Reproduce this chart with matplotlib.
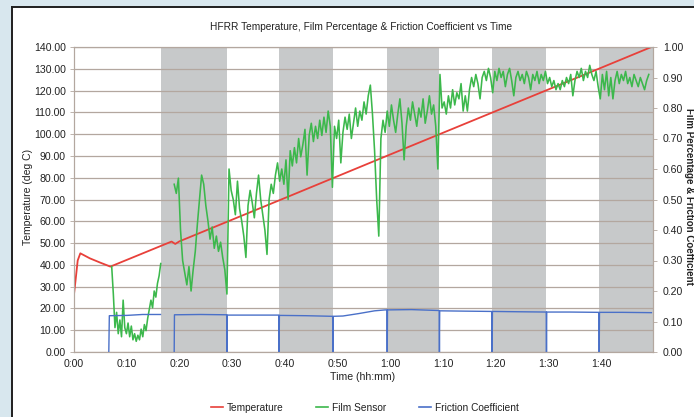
import matplotlib

matplotlib.use("Agg")
import matplotlib.pyplot as plt
import numpy as np
from matplotlib.lines import Line2D
from matplotlib.patches import Rectangle

plt.rcParams["font.family"] = ["Liberation Sans", "DejaVu Sans"]

# ---- data (time in minutes) ----
TIME_TICKS = [0, 10, 20, 30, 40, 50, 60, 70, 80, 90, 100]
TIME_LABELS = ["0:00", "0:10", "0:20", "0:30", "0:40", "0:50",
               "1:00", "1:10", "1:20", "1:30", "1:40"]
T_END = 109.8

TEMP_TICKS = [0, 10, 20, 30, 40, 50, 60, 70, 80, 90, 100, 110, 120, 130, 140]
FRAC_TICKS = [0.0, 0.1, 0.2, 0.3, 0.4, 0.5, 0.6, 0.7, 0.8, 0.9, 1.0]

# load/unload periods shaded grey
BAND_START = [16.5, 38.9, 59.4, 79.3, 99.6]
BAND_END = [29.0, 49.1, 69.3, 89.6, T_END]

temp_time = [0.0, 0.3, 0.7, 1.2, 3.0, 5.0, 6.9, 18.5, 19.2, 20.0, 40.0, 60.0, 80.0, 100.0, 109.5]
temp_degc = [26.5, 33.0, 42.0, 45.3, 43.0, 41.0, 39.2, 50.7, 49.6, 50.8, 70.7, 90.7, 110.6, 130.5, 140.0]

# film sensor: sampled in two runs, gap while the rig is reloaded
film_a_start, film_a_step = 7.15, 0.31
film_a = [0.28, 0.19, 0.08, 0.13, 0.06, 0.105, 0.05, 0.17, 0.08, 0.06, 0.095,
          0.05, 0.085, 0.04, 0.06, 0.035, 0.055, 0.04, 0.075, 0.05, 0.09, 0.07,
          0.11, 0.14, 0.17, 0.145, 0.20, 0.18, 0.225, 0.25, 0.29]

film_b_start, film_b_step = 19.0, 0.4
film_b = [
    # 0:19 - 0:29
    0.55, 0.52, 0.57, 0.40, 0.30, 0.26, 0.22, 0.28, 0.20, 0.27, 0.33, 0.42, 0.50,
    0.58, 0.55, 0.48, 0.43, 0.37, 0.41, 0.34, 0.38, 0.33, 0.36, 0.31, 0.27,
    # 0:29 - 0:39
    0.19, 0.60, 0.53, 0.50, 0.45, 0.56, 0.47, 0.43, 0.38, 0.31, 0.48, 0.53, 0.49,
    0.44, 0.52, 0.58, 0.50, 0.45, 0.40, 0.32, 0.50, 0.55, 0.52, 0.58, 0.62,
    # 0:39 - 0:49
    0.56, 0.60, 0.55, 0.63, 0.50, 0.66, 0.61, 0.67, 0.62, 0.70, 0.64, 0.68, 0.73,
    0.58, 0.71, 0.75, 0.69, 0.74, 0.70, 0.76, 0.71, 0.77, 0.72, 0.79, 0.74,
    # 0:49 - 0:59
    0.54, 0.74, 0.70, 0.76, 0.62, 0.72, 0.77, 0.73, 0.78, 0.70, 0.75, 0.80, 0.74,
    0.79, 0.76, 0.82, 0.78, 0.84, 0.875, 0.78, 0.66, 0.50, 0.38, 0.70, 0.76,
    # 0:59 - 1:09
    0.72, 0.79, 0.74, 0.81, 0.76, 0.72, 0.78, 0.83, 0.75, 0.63, 0.74, 0.80, 0.76,
    0.82, 0.78, 0.74, 0.80, 0.77, 0.83, 0.75, 0.79, 0.84, 0.78, 0.81, 0.74,
    # 1:09 - 1:19
    0.60, 0.91, 0.80, 0.82, 0.78, 0.84, 0.80, 0.86, 0.81, 0.85, 0.83, 0.88, 0.79,
    0.84, 0.79, 0.86, 0.90, 0.87, 0.91, 0.88, 0.83, 0.90, 0.92, 0.89, 0.93,
    # 1:19 - 1:29
    0.90, 0.85, 0.92, 0.89, 0.93, 0.90, 0.92, 0.87, 0.91, 0.93, 0.89, 0.84, 0.90,
    0.92, 0.89, 0.91, 0.88, 0.92, 0.90, 0.86, 0.91, 0.89, 0.92, 0.88, 0.91,
    # 1:29 - 1:39
    0.89, 0.92, 0.88, 0.90, 0.87, 0.89, 0.86, 0.88, 0.86, 0.89, 0.87, 0.90, 0.88,
    0.91, 0.84, 0.89, 0.92, 0.90, 0.93, 0.89, 0.92, 0.90, 0.94, 0.91, 0.89,
    # 1:39 - 1:49
    0.92, 0.87, 0.83, 0.91, 0.86, 0.92, 0.84, 0.90, 0.83, 0.89, 0.92, 0.88, 0.91,
    0.89, 0.92, 0.88, 0.90, 0.87, 0.91, 0.89, 0.87, 0.90, 0.88, 0.86, 0.89, 0.91,
]

# friction coefficient, drops to zero at each stop
fric_time = [6.6, 6.7, 10.0, 13.0, 16.4, np.nan,
             19.0, 19.05, 24.0, 28.95, 29.0, 29.05, 34.0, 38.85, 38.9, 38.95,
             44.0, 49.05, 49.1, 49.15, 51.0, 54.0, 57.0, 59.0, 59.35, 59.4, 59.45,
             64.0, 69.25, 69.3, 69.35, 74.0, 79.25, 79.3, 79.35, 84.0,
             89.55, 89.6, 89.65, 94.0, 99.55, 99.6, 99.65, 104.0, 109.5]
fric_coef = [0.0, 0.119, 0.120, 0.123, 0.123, np.nan,
             0.0, 0.122, 0.123, 0.122, 0.0, 0.121, 0.121, 0.121, 0.0, 0.120,
             0.119, 0.117, 0.0, 0.117, 0.118, 0.126, 0.135, 0.138, 0.138, 0.0, 0.138,
             0.139, 0.136, 0.0, 0.135, 0.134, 0.133, 0.0, 0.133, 0.132,
             0.131, 0.0, 0.131, 0.131, 0.130, 0.0, 0.130, 0.130, 0.129]

RED = "#e8403a"
GREEN = "#3cb84c"
BLUE = "#4a70c8"
GRID = "#b3a79f"
BAND = "#c7c9ca"
TEXT = "#222222"

film_a_t = film_a_start + film_a_step * np.arange(len(film_a))
film_b_t = film_b_start + film_b_step * np.arange(len(film_b))

fig = plt.figure(figsize=(6.94, 4.17), dpi=100, facecolor="white")

# page frame around the embedded chart
fig.patches.append(Rectangle((0, 0), 11 / 694, 1, transform=fig.transFigure,
                             facecolor="#d8e7ee", edgecolor="none", zorder=0))
fig.patches.append(Rectangle((0, 1 - 7 / 417), 1, 7 / 417, transform=fig.transFigure,
                             facecolor="#d8e7ee", edgecolor="none", zorder=0))
fig.add_artist(Line2D([12 / 694, 12 / 694], [0, 1 - 7 / 417], transform=fig.transFigure,
                      color="#1e1e1e", lw=1.4))
fig.add_artist(Line2D([12 / 694, 1], [1 - 7 / 417, 1 - 7 / 417], transform=fig.transFigure,
                      color="#1e1e1e", lw=1.4))

ax = fig.add_axes([74 / 694, 1 - 352 / 417, (653 - 74) / 694, (352 - 47) / 417])
ax2 = ax.twinx()

for s, e in zip(BAND_START, BAND_END):
    ax.axvspan(s, e, color=BAND, lw=0, zorder=0)
for v in TEMP_TICKS:
    ax.axhline(v, color=GRID, lw=0.9, zorder=1)

ax.plot(temp_time, temp_degc, color=RED, lw=1.3, zorder=3)
ax2.plot(film_a_t, film_a, color=GREEN, lw=1.15)
ax2.plot(film_b_t, film_b, color=GREEN, lw=1.15)
ax2.plot(fric_time, fric_coef, color=BLUE, lw=1.0)

ax.set_xlim(0, T_END)
ax.set_ylim(0, 140)
ax2.set_ylim(0, 1.0)

ax.set_xticks(TIME_TICKS)
ax.set_xticklabels(TIME_LABELS)
ax.set_yticks(TEMP_TICKS)
ax.set_yticklabels([f"{v:.2f}" for v in TEMP_TICKS])
ax2.set_yticks(FRAC_TICKS)
ax2.set_yticklabels([f"{v:.2f}" for v in FRAC_TICKS])

ax.tick_params(axis="x", length=0, pad=5, labelsize=7.6, labelcolor=TEXT)
ax.tick_params(axis="y", length=3, width=0.6, color=GRID, pad=3, labelsize=7.6, labelcolor=TEXT)
ax2.tick_params(axis="y", length=3, width=0.6, color=GRID, pad=4, labelsize=7.6, labelcolor=TEXT)

for a in (ax, ax2):
    for sp in a.spines.values():
        sp.set_color(GRID)
        sp.set_linewidth(0.8)

fig.text(361 / 694, 1 - 27 / 417,
         "HFRR Temperature, Film Percentage & Friction Coefficient vs Time",
         ha="center", va="center", fontsize=7.3, color=TEXT)
fig.text(28 / 694, 1 - 197 / 417, "Temperature (deg C)", rotation=90,
         ha="center", va="center", fontsize=7.5, color=TEXT)
fig.text(689 / 694, 1 - 196 / 417, "Film Percentage & Friction Coefficient", rotation=270,
         ha="center", va="center", fontsize=7, color=TEXT, fontweight="bold")
fig.text(363 / 694, 1 - 377 / 417, "Time (hh:mm)", ha="center", va="center",
         fontsize=7.6, color=TEXT)

handles = [Line2D([], [], color=RED, lw=1.2),
           Line2D([], [], color=GREEN, lw=1.2),
           Line2D([], [], color=BLUE, lw=1.2)]
fig.legend(handles, ["Temperature", "Film Sensor", "Friction Coefficient"],
           loc="center", bbox_to_anchor=(365 / 694, 1 - 408 / 417), ncol=3,
           frameon=False, fontsize=7.3, handlelength=1.2, handletextpad=0.4,
           columnspacing=3.2, labelcolor=TEXT)

fig.savefig("out.png", dpi=100, facecolor="white")
